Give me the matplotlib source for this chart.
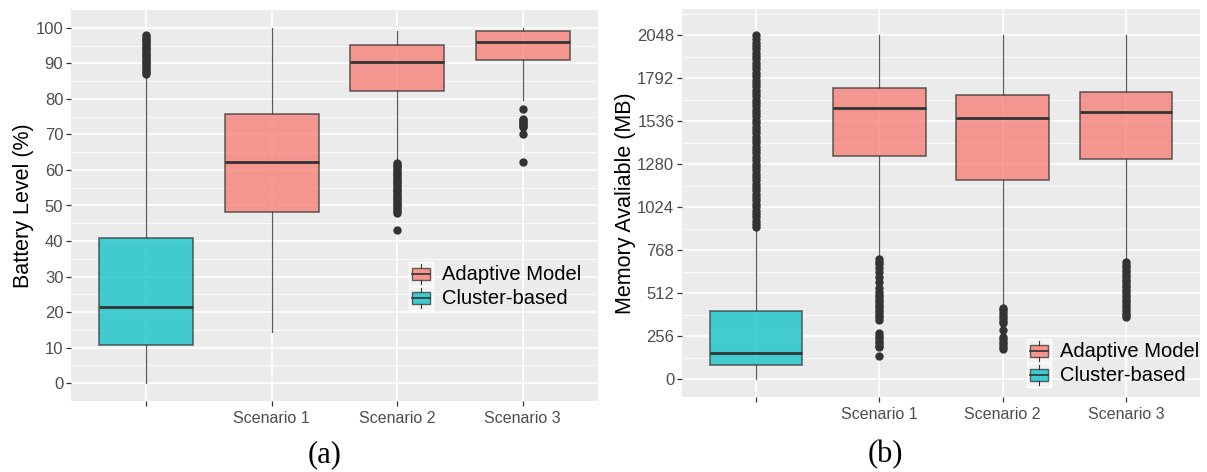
import matplotlib
matplotlib.use("Agg")
import matplotlib.pyplot as plt
from matplotlib.patches import Rectangle
from matplotlib.lines import Line2D
from matplotlib.legend_handler import HandlerBase

plt.rcParams['font.family'] = ['Liberation Sans', 'DejaVu Sans']

# ---------------- data ----------------
categories = ["", "Scenario 1", "Scenario 2", "Scenario 3"]
groups = ["Cluster-based", "Adaptive Model", "Adaptive Model", "Adaptive Model"]

# (a) Battery level (%)
bat_q1 = [10.6, 48.2, 82.2, 90.9]
bat_med = [21.3, 62.3, 90.3, 96.1]
bat_q3 = [40.9, 75.9, 95.1, 99.2]
bat_whislo = [0.0, 14.3, 62.8, 79.7]
bat_whishi = [86.5, 100.0, 99.1, 100.0]
bat_fliers = [
    [87, 87.5, 88, 88.5, 89, 89.5, 90, 90.5, 91, 91.5, 92, 92.5, 93, 93.5,
     94, 94.5, 95, 95.5, 96, 96.5, 97, 97.5, 98],
    [],
    [62, 61.5, 61, 60.5, 60, 59.5, 59, 58.5, 58, 57.5, 57, 56.5, 56, 55.5,
     55, 54.5, 54, 53.5, 53, 52.5, 52, 51.5, 51, 50.5, 50, 49.5, 49, 48.5,
     48, 43.1],
    [77.2, 74.4, 74.0, 73.6, 73.2, 72.8, 72.4, 72.1, 70.1, 62.3],
]

# (b) Memory available (MB)
mem_q1 = [85, 1328, 1184, 1309]
mem_med = [155, 1618, 1556, 1592]
mem_q3 = [408, 1737, 1693, 1713]
mem_whislo = [0, 730, 440, 712]
mem_whishi = [898, 2048, 2048, 2048]
mem_fliers = [
    [905, 925, 945, 965, 985, 1005, 1025, 1045, 1065, 1085, 1105, 1125,
     1145, 1165, 1185, 1205, 1225, 1245, 1265, 1285, 1305, 1325, 1345, 1365,
     1385, 1405, 1425, 1445, 1465, 1485, 1505, 1525, 1545, 1565, 1585, 1605,
     1625, 1645, 1665, 1685, 1705, 1725, 1745, 1765, 1785, 1805, 1825, 1845,
     1865, 1885, 1905, 1925, 1945, 1965, 1985, 2005, 2025, 2048],
    [716, 700, 685, 663, 639, 609, 579, 543, 520, 505, 490, 475, 460, 445,
     430, 415, 400, 385, 370, 353, 275, 260, 245, 230, 215, 200, 192, 138],
    [424, 410, 395, 380, 365, 350, 335, 293, 252, 238, 224, 210, 195, 180],
    [698, 683, 668, 653, 638, 623, 608, 593, 578, 563, 548, 533, 518, 503,
     488, 473, 458, 443, 428, 413, 398, 383, 371],
]

bat_ticks = [0, 10, 20, 30, 40, 50, 60, 70, 80, 90, 100]
mem_ticks = [0, 256, 512, 768, 1024, 1280, 1536, 1792, 2048]

colors = {"Adaptive Model": "#F8766D", "Cluster-based": "#00BFC4"}
PANEL = "#EBEBEB"
DARK = "#333333"

W, H = 1207, 472
fig = plt.figure(figsize=(W / 100, H / 100), dpi=100)


def px_axes(x0, y0, x1, y1):
    return fig.add_axes([x0 / W, 1 - y1 / H, (x1 - x0) / W, (y1 - y0) / H])


class BoxHandler(HandlerBase):
    def create_artists(self, legend, orig_handle, xdescent, ydescent,
                       width, height, fontsize, trans):
        fc = orig_handle.get_facecolor()
        x0, y0 = -xdescent, -ydescent
        bg = Rectangle((x0, y0), width, height, facecolor="#F2F2F2",
                       edgecolor="white", lw=1.0, transform=trans)
        bw = width * 0.72
        bx = x0 + (width - bw) / 2
        by = y0 + height * 0.25
        bh = height * 0.5
        box = Rectangle((bx, by), bw, bh, facecolor=fc, edgecolor=DARK,
                        lw=1.0, alpha=0.75, transform=trans)
        xm = x0 + width / 2
        l1 = Line2D([xm, xm], [y0 + height * 0.08, by], color=DARK, lw=0.8,
                    transform=trans)
        l2 = Line2D([xm, xm], [by + bh, y0 + height * 0.92], color=DARK,
                    lw=0.8, transform=trans)
        l3 = Line2D([bx, bx + bw], [by + bh / 2, by + bh / 2], color=DARK,
                    lw=1.2, transform=trans)
        return [bg, box, l1, l2, l3]


def draw_panel(ax, q1, med, q3, wlo, whi, fliers, ticks, minor, ylim, ylabel,
               leg_xy):
    ax.set_facecolor(PANEL)
    for s in ax.spines.values():
        s.set_visible(False)
    pos = list(range(1, len(categories) + 1))
    ax.set_xlim(0.4, len(categories) + 0.6)
    ax.set_ylim(*ylim)
    ax.set_yticks(ticks)
    ax.set_yticks(minor, minor=True)
    ax.set_xticks(pos)
    ax.set_xticklabels(categories)
    ax.grid(True, which="major", color="white", lw=1.2, zorder=0)
    ax.grid(True, which="minor", axis="y", color="white", lw=0.6, zorder=0)
    ax.set_axisbelow(True)
    ax.tick_params(axis="both", which="major", length=3.5, width=0.9,
                   color=DARK, pad=2)
    ax.tick_params(axis="y", which="minor", length=0)
    ax.tick_params(axis="y", labelsize=12, labelcolor="#4D4D4D")
    ax.tick_params(axis="x", labelsize=11.5, labelcolor="#4D4D4D", pad=4)
    ax.set_ylabel(ylabel, fontsize=15.5, color="black", labelpad=1)

    stats = []
    for i in range(len(categories)):
        stats.append(dict(q1=q1[i], med=med[i], q3=q3[i], whislo=wlo[i],
                          whishi=whi[i], fliers=fliers[i], label=categories[i]))
    bp = ax.bxp(stats, positions=pos, widths=0.75, patch_artist=True,
                showfliers=True, manage_ticks=False,
                boxprops=dict(edgecolor=DARK, lw=1.2),
                medianprops=dict(color=DARK, lw=2.0),
                whiskerprops=dict(color=DARK, lw=0.9, alpha=0.8),
                capprops=dict(lw=0),
                flierprops=dict(marker="o", markersize=5,
                                markerfacecolor=DARK, markeredgecolor=DARK))
    for patch, g in zip(bp["boxes"], groups):
        patch.set_facecolor(colors[g])
        patch.set_alpha(0.72)
        patch.set_edgecolor(DARK)
        patch.set_zorder(3)
    for ln in bp["medians"]:
        ln.set_zorder(4)

    h_ad = Rectangle((0, 0), 1, 1, facecolor=colors["Adaptive Model"])
    h_cl = Rectangle((0, 0), 1, 1, facecolor=colors["Cluster-based"])
    leg = ax.legend([h_ad, h_cl], ["Adaptive Model", "Cluster-based"],
                    handler_map={Rectangle: BoxHandler()},
                    loc="upper left", bbox_to_anchor=leg_xy,
                    frameon=False, fontsize=14.5, borderpad=0,
                    borderaxespad=0, handlelength=1.2, handleheight=1.45,
                    labelspacing=0.0, handletextpad=0.45)
    return leg


ax1 = px_axes(71, 10, 598, 401)
draw_panel(ax1, bat_q1, bat_med, bat_q3, bat_whislo, bat_whishi, bat_fliers,
           bat_ticks, [5, 15, 25, 35, 45, 55, 65, 75, 85, 95], (-5.07, 105.07),
           "Battery Level (%)", (0.641, 0.356))

ax2 = px_axes(682, 9, 1200, 397)
draw_panel(ax2, mem_q1, mem_med, mem_q3, mem_whislo, mem_whishi, mem_fliers,
           mem_ticks, [128, 384, 640, 896, 1152, 1408, 1664, 1920, 2176],
           (-105, 2205), "Memory Avaliable (MB)", (0.666, 0.15))

fig.text(325 / W, 1 - 455 / H, "(a)", ha="center", va="center",
         fontsize=22, family=["Liberation Serif", "DejaVu Serif"])
fig.text(885 / W, 1 - 455 / H, "(b)", ha="center", va="center",
         fontsize=22, family=["Liberation Serif", "DejaVu Serif"])

fig.savefig("out.png", dpi=100, facecolor="white")
